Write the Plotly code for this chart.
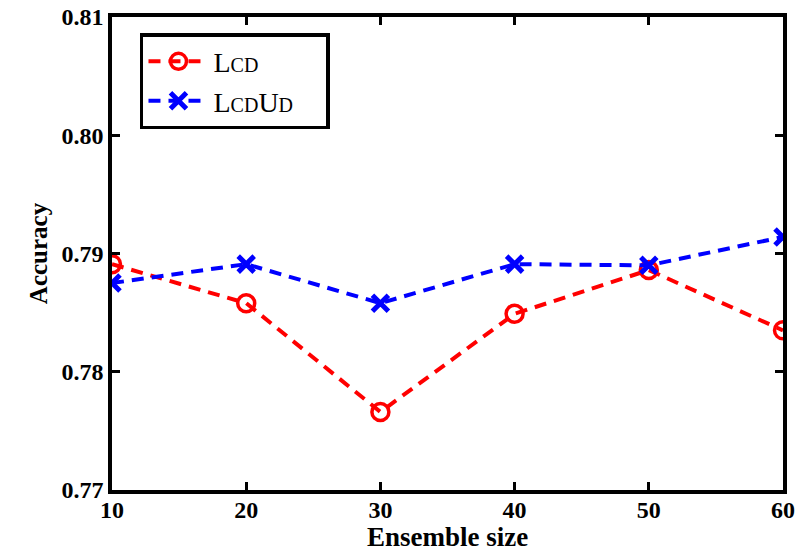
import plotly.graph_objects as go

ensemble_size = [10, 20, 30, 40, 50, 60]
lcd = [0.7891, 0.7858, 0.7766, 0.7849, 0.7886, 0.7835]
lcdud = [0.7875, 0.7891, 0.7858, 0.7891, 0.7890, 0.7914]
y_ticks = [0.77, 0.78, 0.79, 0.80, 0.81]
y_tick_text = ["0.77", "0.78", "0.79", "0.80", "0.81"]
x_title = "Ensemble size"
y_title = "Accuracy"

font_family = "Liberation Serif, Times New Roman, serif"

fig = go.Figure()
fig.add_trace(go.Scatter(
    x=ensemble_size, y=lcd, mode="lines+markers",
    name="L<span style='font-size:20px'>CD</span>",
    line=dict(color="#ff0000", width=4, dash="12px,8px"),
    marker=dict(symbol="circle-open", size=17, color="#ff0000", line=dict(width=3.5, color="#ff0000")),
))
fig.add_trace(go.Scatter(
    x=ensemble_size, y=lcdud, mode="lines+markers",
    name="L<span style='font-size:20px'>CD</span>U<span style='font-size:20px'>D</span>&#160;&#160;&#160;&#160;",
    line=dict(color="#0000ff", width=4, dash="12px,8px"),
    marker=dict(symbol="x-thin-open", size=16, color="#0000ff", line=dict(width=5, color="#0000ff")),
))

axis_common = dict(
    showline=True, linecolor="black", linewidth=3.5, mirror="ticks",
    ticks="inside", ticklen=8, tickwidth=3, tickcolor="black",
    showgrid=False, zeroline=False, ticklabeloverflow="allow",
    automargin=False,
)

# the page body has an 8px margin, so the figure is drawn 8px in and 8px down
fig.update_layout(
    width=795, height=548,
    margin=dict(l=104, r=20, t=9, b=66),
    paper_bgcolor="white", plot_bgcolor="white",
    font=dict(family=font_family, color="black"),
    showlegend=True,
    legend=dict(
        x=0.0417, y=0.966, xanchor="left", yanchor="top",
        bgcolor="white", bordercolor="black", borderwidth=3.5,
        font=dict(size=28, family=font_family, color="black"),
        itemwidth=60, tracegroupgap=0,
    ),
    xaxis=dict(
        range=[10, 60], tickvals=ensemble_size,
        ticktext=[f"<b>{v}</b>" for v in ensemble_size],
        tickfont=dict(size=24, family=font_family),
        ticklabelstandoff=-5,
        **axis_common,
    ),
    yaxis=dict(
        range=[0.77, 0.81], tickvals=y_ticks,
        ticktext=[f"<b>{t}</b>" for t in y_tick_text],
        tickfont=dict(size=24, family=font_family),
        title=dict(text=f"<b>{y_title}</b>", font=dict(size=25, family=font_family), standoff=8),
        **axis_common,
    ),
    annotations=[dict(
        text=f"<b>{x_title}</b>", xref="paper", yref="paper", x=0.5, y=-0.1,
        xanchor="center", yanchor="middle", showarrow=False,
        font=dict(size=27, family=font_family, color="black"),
    )],
)

fig.write_html("out.html")
